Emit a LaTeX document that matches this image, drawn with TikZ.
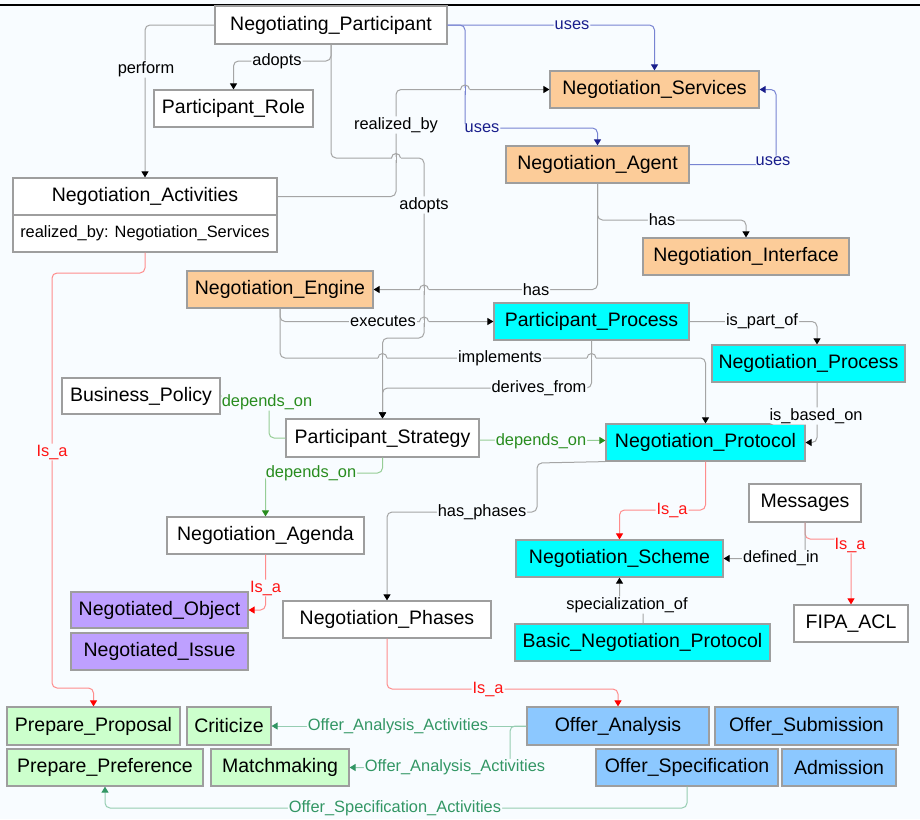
\documentclass[tikz,border=0pt]{standalone}
\usepackage{fontspec}
\setmainfont{Liberation Sans}
\usetikzlibrary{arrows.meta}

\definecolor{bg}{RGB}{248,252,255}
\definecolor{boxline}{RGB}{158,158,158}
\definecolor{orangefill}{RGB}{252,204,153}
\definecolor{cyanfill}{RGB}{0,255,255}
\definecolor{purplefill}{RGB}{190,160,255}
\definecolor{greenfill}{RGB}{204,255,204}
\definecolor{bluefill}{RGB}{140,200,255}
\definecolor{relline}{RGB}{165,165,165}
\definecolor{usesline}{RGB}{120,132,210}
\definecolor{usestext}{RGB}{25,30,140}
\definecolor{isaline}{RGB}{255,140,140}
\definecolor{isatext}{RGB}{255,20,20}
\definecolor{depline}{RGB}{150,205,150}
\definecolor{deptext}{RGB}{40,140,30}
\definecolor{actline}{RGB}{150,205,178}
\definecolor{acttext}{RGB}{50,150,100}

% a small bump where a horizontal connector jumps over a vertical one
\newcommand{\hopmark}[4]{%
  \draw[bg, line width=3pt] (#1-4.5,#2) -- (#1+4.5,#2);
  \draw[#4, line width=1pt] (#1,#2-5) -- (#1,#2+5);
  \draw[#3, line width=1pt] (#1-4.5,#2) arc[start angle=180, end angle=360, radius=4.5];
}

\begin{document}
\begin{tikzpicture}[x=1pt,y=-1pt,
  box/.style={draw=boxline, line width=1.2pt, inner sep=0pt, text=black,
    font=\fontsize{19.5}{21}\selectfont},
  plainbox/.style={box, fill=white},
  orangebox/.style={box, fill=orangefill},
  cyanbox/.style={box, fill=cyanfill},
  purplebox/.style={box, fill=purplefill},
  greenbox/.style={box, fill=greenfill},
  bluebox/.style={box, fill=bluefill},
  conn/.style={line width=1pt, rounded corners=5pt},
  rel/.style={conn, draw=relline, -{Triangle[length=6pt,width=7pt,color=black]}},
  uses/.style={conn, draw=usesline, -{Triangle[length=6pt,width=7pt,color=usestext]}},
  isa/.style={conn, draw=isaline, -{Triangle[length=6pt,width=7pt,color=red]}},
  dep/.style={conn, draw=depline, -{Triangle[length=6pt,width=7pt,color=deptext]}},
  depplain/.style={conn, draw=depline},
  act/.style={conn, draw=actline, -{Triangle[length=6pt,width=7pt,color=acttext]}},
  lbl/.style={fill=bg, inner sep=1pt, font=\fontsize{16.4}{18}\selectfont},
  rellbl/.style={lbl, text=black},
  useslbl/.style={lbl, text=usestext},
  isalbl/.style={lbl, text=isatext},
  deplbl/.style={lbl, text=deptext},
  actlbl/.style={lbl, text=acttext}
]
% canvas and top rule
\fill[bg] (0,0) rectangle (920,819);
\useasboundingbox (0,0) rectangle (920,819);
\draw[line width=1.5pt] (0,5) -- (920,5);

% ---------- concepts ----------
\node[plainbox, minimum width=232, minimum height=38] (NP) at (331,25) {Negotiating\_Participant};
\node[plainbox, minimum width=159, minimum height=37] (PRole) at (233.5,108.5) {Participant\_Role};
\node[plainbox, minimum width=264, minimum height=37] (NActT) at (145,196.5) {Negotiation\_Activities};
\node[plainbox, minimum width=264, minimum height=37, font=\fontsize{16.4}{18}\selectfont] (NActA) at (145,233.5) {realized\_by: Negotiation\_Services};
\node[orangebox, minimum width=209, minimum height=37] (NServ) at (654.5,89.5) {Negotiation\_Services};
\node[orangebox, minimum width=183, minimum height=37] (NAgent) at (597.5,164.5) {Negotiation\_Agent};
\node[orangebox, minimum width=206, minimum height=37] (NInter) at (746,256.5) {Negotiation\_Interface};
\node[orangebox, minimum width=186, minimum height=37] (NEngine) at (280,289.5) {Negotiation\_Engine};
\node[plainbox, minimum width=158, minimum height=36] (BPolicy) at (141,396) {Business\_Policy};
\node[plainbox, minimum width=193, minimum height=38] (PStrat) at (382.5,438) {Participant\_Strategy};
\node[cyanbox, minimum width=195, minimum height=37] (PProc) at (591.5,321.5) {Participant\_Process};
\node[cyanbox, minimum width=193, minimum height=37] (NProc) at (808.5,363.5) {Negotiation\_Process};
\node[cyanbox, minimum width=199, minimum height=37] (NProt) at (705.5,442.5) {Negotiation\_Protocol};
\node[plainbox, minimum width=197, minimum height=37] (NAgenda) at (265.5,535.5) {Negotiation\_Agenda};
\node[purplebox, minimum width=177, minimum height=36] (NObj) at (159.5,610) {Negotiated\_Object};
\node[purplebox, minimum width=177, minimum height=37] (NIssue) at (159.5,651.5) {Negotiated\_Issue};
\node[plainbox, minimum width=208, minimum height=37] (NPhases) at (387,619.5) {Negotiation\_Phases};
\node[plainbox, minimum width=112, minimum height=38] (Msg) at (805,503) {Messages};
\node[cyanbox, minimum width=207, minimum height=37] (NScheme) at (619.5,558.5) {Negotiation\_Scheme};
\node[plainbox, minimum width=114, minimum height=37] (FIPA) at (851,623.5) {FIPA\_ACL};
\node[cyanbox, minimum width=255, minimum height=37] (BNP) at (642.5,642.5) {Basic\_Negotiation\_Protocol};
\node[greenbox, minimum width=173, minimum height=38] (PProp) at (93.5,726) {Prepare\_Proposal};
\node[greenbox, minimum width=84, minimum height=38] (Crit) at (229,726) {Criticize};
\node[greenbox, minimum width=196, minimum height=37] (PPref) at (105,767.5) {Prepare\_Preference};
\node[greenbox, minimum width=138, minimum height=37] (Match) at (280,767.5) {Matchmaking};
\node[bluebox, minimum width=182, minimum height=38] (OAnal) at (618,726) {Offer\_Analysis};
\node[bluebox, minimum width=183, minimum height=38] (OSub) at (806.5,726) {Offer\_Submission};
\node[bluebox, minimum width=182, minimum height=37] (OSpec) at (687,767.5) {Offer\_Specification};
\node[bluebox, minimum width=114, minimum height=37] (Admis) at (839,767.5) {Admission};

% ---------- relations ----------
\draw[rel] (NP.west) -| (NActT.north) node[rellbl] at (146,69) {perform};
\draw[rel] (NP.south) -- (331,61) -| (PRole.north) node[rellbl] at (277,61) {adopts};
\draw[rel] (NP.south) |- (424,158) -- (424,338) -| (PStrat.north) node[rellbl] at (424,205) {adopts};
\draw[rel] (NActT.east) -| (396,89.5) -- (NServ.west) node[rellbl] at (396,125) {realized\_by};

\draw[uses] (NP.east) -| (NServ.north) node[useslbl] at (572,25) {uses};
\draw[uses] (NP.east) -- (465,25) -- (465,128) -| (NAgent.north) node[useslbl] at (482,128) {uses};
\draw[uses] (NAgent.east) -| (776,89.5) -- (NServ.east) node[useslbl] at (773,161) {uses};

\draw[rel] (NAgent.south) -- (597.5,220) -| (NInter.north) node[rellbl] at (662,220) {has};
\draw[rel] (NAgent.south) |- (NEngine.east) node[rellbl] at (536,289.5) {has};
\draw[rel] (NEngine.south) |- (PProc.west) node[rellbl] at (383,321.5) {executes};
\draw[rel] (NEngine.south) -- (280,358) -| (NProt.north) node[rellbl] at (500,358) {implements};
\draw[rel] (PProc.south) -- (591.5,388) -| (PStrat.north) node[rellbl] at (539,388) {derives\_from};
\draw[rel] (PProc.east) -| ([xshift=8.5pt]NProc.north) node[rellbl] at (762,321.5) {is\_part\_of};
\draw[rel] ([xshift=8.5pt]NProc.south) |- (NProt.east) node[rellbl] at (816,416) {is\_based\_on};

\draw[depplain] (PStrat.west) -| (269,396) -- (BPolicy.east) node[deplbl] at (267,402) {depends\_on};
\draw[dep] ([yshift=-2pt]PStrat.east) -- ([yshift=2pt]NProt.west) node[deplbl] at (541,441) {depends\_on};
\draw[dep] (PStrat.south) -- (382.5,473) -| (NAgenda.north) node[deplbl] at (311,473) {depends\_on};

\draw[isa] (NAgenda.south) |- (NObj.east) node[isalbl] at (265.5,588) {Is\_a};
\draw[isa] (NActA.south) -- (145,273) -- (52,273) -- (52,688) -| (PProp.north) node[isalbl] at (52,452) {Is\_a};
\draw[rel] (NProt.south west) -- (537,463) -- (537,512) -| (NPhases.north) node[rellbl] at (482,512) {has\_phases};
\draw[isa] (NProt.south) -- (705.5,510) -| (NScheme.north) node[isalbl] at (672,510) {Is\_a};
\draw[isa] (Msg.south) -- (805,539) -| (FIPA.north) node[isalbl] at (850,545) {Is\_a};
\draw[rel] (Msg.south) |- (NScheme.east) node[rellbl] at (781,558.5) {defined\_in};
\draw[rel] ([xshift=0.5pt]BNP.north) -- (643,605) -- (619.5,605) -- (NScheme.south) node[rellbl] at (627,605) {specialization\_of};
\draw[isa] (NPhases.south) -- (387,689) -| (OAnal.north) node[isalbl] at (488,689) {Is\_a};

\draw[act] (OAnal.west) -- (Crit.east) node[actlbl] at (398,726) {Offer\_Analysis\_Activities};
\draw[act] (OAnal.west) -- (510,726) -- (510,767.5) -- (Match.east) node[actlbl] at (455,767.5) {Offer\_Analysis\_Activities};
\draw[act] (OSpec.south) -- (687,808) -| (PPref.south) node[actlbl] at (395,808) {Offer\_Specification\_Activities};

% ---------- line jumps at crossings ----------
\hopmark{465}{89.5}{relline}{usesline}
\hopmark{396}{158}{relline}{relline}
\hopmark{424}{289.5}{relline}{relline}
\hopmark{424}{321.5}{relline}{relline}
\hopmark{382.5}{358}{relline}{relline}
\hopmark{591.5}{358}{relline}{relline}
\end{tikzpicture}
\end{document}
